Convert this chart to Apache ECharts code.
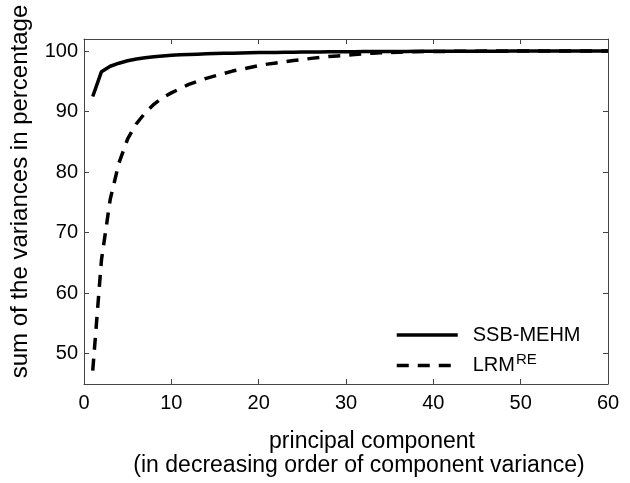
<!DOCTYPE html>
<html>
<head>
<meta charset="utf-8">
<script src="https://cdn.jsdelivr.net/npm/echarts@6/dist/echarts.min.js"></script>
<style>html,body{margin:0;padding:0;background:#fff}#c{width:630px;height:483px}</style>
</head>
<body>
<div id="c"></div>
<script>
const components = Array.from({length: 60}, (_, i) => i + 1);
const ssbMehm = [
  92.5, 96.6, 97.5, 98.0, 98.4, 98.7, 98.9, 99.05, 99.2, 99.3,
  99.4, 99.45, 99.5, 99.55, 99.6, 99.63, 99.66, 99.69, 99.72, 99.75,
  99.77, 99.79, 99.81, 99.83, 99.85, 99.86, 99.87, 99.88, 99.89, 99.9,
  99.91, 99.92, 99.93, 99.93, 99.94, 99.95, 99.95, 99.96, 99.96, 99.97,
  99.97, 99.98, 99.98, 99.98, 99.99, 99.99, 99.99, 99.99, 100, 100,
  100, 100, 100, 100, 100, 100, 100, 100, 100, 100
];
const lrmRe = [
  47.2, 65.5, 75.5, 81.5, 85.5, 88.0, 89.8, 91.2, 92.3, 93.1,
  93.8, 94.5, 95.0, 95.5, 95.9, 96.3, 96.7, 97.0, 97.3, 97.6,
  97.85, 98.05, 98.25, 98.45, 98.6, 98.8, 98.95, 99.1, 99.2, 99.3,
  99.45, 99.55, 99.65, 99.72, 99.78, 99.82, 99.86, 99.89, 99.92, 99.94,
  99.95, 99.96, 99.97, 99.98, 99.99, 100, 100, 100, 100, 100,
  100, 100, 100, 100, 100, 100, 100, 100, 100, 100
];
const xTicks = [0, 10, 20, 30, 40, 50, 60];
const yTicks = [50, 60, 70, 80, 90, 100];
const seriesNames = ['SSB-MEHM', 'LRM^RE'];
const xTitle1 = 'principal component';
const xTitle2 = '(in decreasing order of component variance)';
const yTitle = 'sum of the variances in percentage';

const font = 'Liberation Sans, Arial, Helvetica, sans-serif';
const axisColor = '#444';
const chart = echarts.init(document.getElementById('c'), null, {renderer: 'canvas'});
const mkAxisX = (pos, show) => ({
  type: 'value', position: pos, min: 0, max: 60,
  axisLine: {show: true, onZero: false, lineStyle: {color: axisColor, width: 1}},
  axisTick: {show: true, inside: true, length: 5, customValues: xTicks, lineStyle: {color: axisColor}},
  axisLabel: {show: show, customValues: xTicks, color: '#000', fontSize: 20, fontFamily: font, margin: 9},
  splitLine: {show: false}
});
const mkAxisY = (pos, show) => ({
  type: 'value', position: pos, min: 45, max: 102,
  axisLine: {show: true, onZero: false, lineStyle: {color: axisColor, width: 1}},
  axisTick: {show: true, inside: true, length: 5, customValues: yTicks, lineStyle: {color: axisColor}},
  axisLabel: {show: show, customValues: yTicks, color: '#000', fontSize: 20, fontFamily: font, margin: 6},
  splitLine: {show: false}
});
const xMain = mkAxisX('bottom', true);
xMain.name = '{l1|' + xTitle1 + '}\n{l2|' + xTitle2 + '}';
xMain.nameLocation = 'middle';
xMain.nameGap = 46;
xMain.nameTextStyle = {
  color: '#000', fontSize: 23, fontFamily: font, lineHeight: 24, padding: [0, 0, 0, 26],
  rich: {
    l1: {fontSize: 23, fontFamily: font, color: '#000', lineHeight: 24, padding: [0, 0, 0, 26]},
    l2: {fontSize: 23, fontFamily: font, color: '#000', lineHeight: 24}
  }
};
const yMain = mkAxisY('left', true);
yMain.name = yTitle;
yMain.nameLocation = 'middle';
yMain.nameGap = 52;
yMain.nameTextStyle = {color: '#000', fontSize: 24, fontFamily: font, padding: [0, 0, 0, 40]};

chart.setOption({
  animation: false,
  backgroundColor: '#fff',
  grid: {left: 82, right: 22, top: 39, bottom: 93, containLabel: false},
  xAxis: [xMain, mkAxisX('top', false)],
  yAxis: [yMain, mkAxisY('right', false)],
  legend: {
    show: true,
    orient: 'vertical', left: 390, top: 320, itemWidth: 61, itemHeight: 14, itemGap: 7,
    data: seriesNames,
    itemStyle: {color: 'transparent', borderColor: 'transparent', borderWidth: 0},
    lineStyle: {width: 3.5, color: '#000'},
    formatter: function (n) { return n === 'LRM^RE' ? '{a|LRM}{s|RE}' : '{a|' + n + '}'; },
    textStyle: {
      color: '#000', fontSize: 20, fontFamily: font, padding: [0, 0, 0, 10],
      rich: {
        a: {fontSize: 20, fontFamily: font, color: '#000'},
        s: {fontSize: 15, fontFamily: font, color: '#000', verticalAlign: 'top', padding: [0, 0, 12, 1]}
      }
    }
  },
  series: [
    {
      name: seriesNames[0], type: 'line', xAxisIndex: 0, yAxisIndex: 0, symbol: 'none',
      data: components.map((c, i) => [c, ssbMehm[i]]),
      lineStyle: {color: '#000', width: 3.5, type: 'solid'},
      itemStyle: {color: '#000'}
    },
    {
      name: seriesNames[1], type: 'line', xAxisIndex: 0, yAxisIndex: 0, symbol: 'none',
      data: components.map((c, i) => [c, lrmRe[i]]),
      lineStyle: {color: '#000', width: 3.5, type: [12, 9]},
      itemStyle: {color: '#000'}
    }
  ]
});
</script>
</body>
</html>
